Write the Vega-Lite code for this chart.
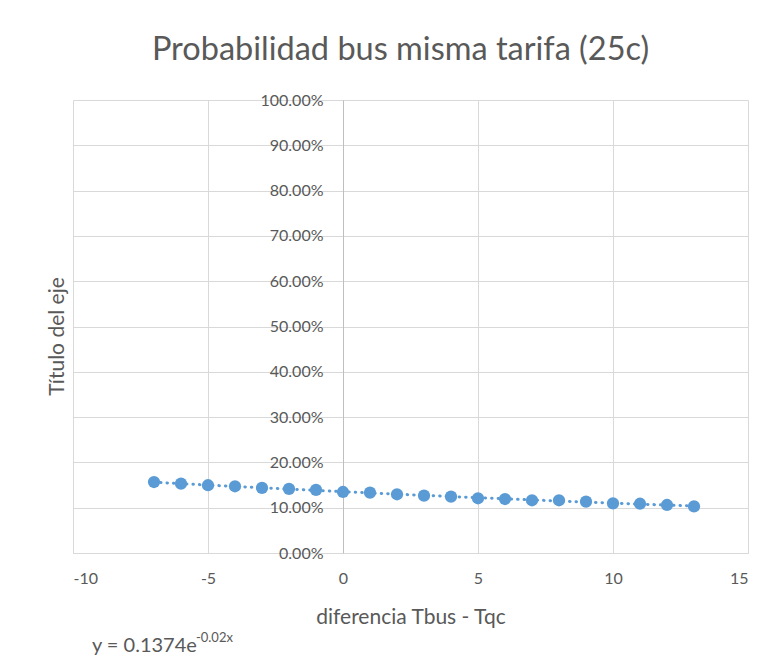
{
  "$schema": "https://vega.github.io/schema/vega-lite/v6.json",
  "width": 675,
  "height": 453,
  "autosize": {"type": "none"},
  "padding": {"left": 73, "top": 100, "right": 29, "bottom": 106},
  "background": "white",
  "title": {
    "text": "Probabilidad bus misma tarifa (25c)",
    "font": "Lato",
    "fontSize": 32.5,
    "fontWeight": "normal",
    "color": "#595959",
    "anchor": "middle",
    "offset": 26,
    "dx": -10
  },
  "config": {
    "view": {"stroke": null},
    "axis": {
      "labelFont": "Lato",
      "titleFont": "Lato",
      "labelColor": "#595959",
      "titleColor": "#595959",
      "labelFontSize": 16,
      "titleFontSize": 21,
      "titleFontWeight": "normal",
      "gridColor": "#d9d9d9",
      "domainColor": "#d9d9d9",
      "ticks": false
    }
  },
  "datasets": {
    "points": [
      {"x": -7, "y": 0.1567},
      {"x": -6, "y": 0.1531},
      {"x": -5, "y": 0.1496},
      {"x": -4, "y": 0.1473},
      {"x": -3, "y": 0.1436},
      {"x": -2, "y": 0.1414},
      {"x": -1, "y": 0.1392},
      {"x": 0, "y": 0.1347},
      {"x": 1, "y": 0.1332},
      {"x": 2, "y": 0.1296},
      {"x": 3, "y": 0.1265},
      {"x": 4, "y": 0.1243},
      {"x": 5, "y": 0.1208},
      {"x": 6, "y": 0.1192},
      {"x": 7, "y": 0.1164},
      {"x": 8, "y": 0.1164},
      {"x": 9, "y": 0.1133},
      {"x": 10, "y": 0.1097},
      {"x": 11, "y": 0.1088},
      {"x": 12, "y": 0.106},
      {"x": 13, "y": 0.1031}
    ],
    "equation": [{"label": "y = 0.1374e", "sup": "-0.02x"}]
  },
  "layer": [
    {
      "data": {"name": "points"},
      "transform": [{"regression": "y", "on": "x", "method": "exp"}],
      "mark": {
        "type": "line",
        "color": "#5b9bd5",
        "strokeWidth": 3,
        "strokeDash": [0.5, 6],
        "strokeCap": "round"
      },
      "encoding": {
        "x": {
          "field": "x",
          "type": "quantitative",
          "scale": {"domain": [-10, 15], "nice": false, "zero": false},
          "axis": {
            "values": [-10, -5, 0, 5, 10, 15],
            "labelExpr": "'' + datum.value",
            "title": "diferencia Tbus - Tqc",
            "labelPadding": 17,
            "titlePadding": 20,
            "grid": true
          }
        },
        "y": {
          "field": "y",
          "type": "quantitative",
          "scale": {"domain": [0, 1], "nice": false},
          "axis": {
            "values": [0, 0.1, 0.2, 0.3, 0.4, 0.5, 0.6, 0.7, 0.8, 0.9, 1],
            "format": ".2%",
            "offset": -270,
            "labelPadding": 20,
            "domainColor": "#bfbfbf",
            "grid": true,
            "title": "Título del eje",
            "titleX": -286,
            "titleY": 236,
            "titleBaseline": "middle"
          }
        }
      }
    },
    {
      "data": {"name": "points"},
      "mark": {"type": "circle", "color": "#5b9bd5", "opacity": 1, "size": 150},
      "encoding": {
        "x": {"field": "x", "type": "quantitative"},
        "y": {"field": "y", "type": "quantitative"}
      }
    },
    {
      "data": {"name": "equation"},
      "mark": {"type": "text", "font": "Lato", "fontSize": 20, "color": "#595959", "align": "left", "baseline": "middle"},
      "encoding": {
        "x": {"datum": -9.3, "type": "quantitative"},
        "y": {"datum": -0.206, "type": "quantitative"},
        "text": {"field": "label"}
      }
    },
    {
      "data": {"name": "equation"},
      "mark": {"type": "text", "font": "Lato", "fontSize": 13, "color": "#595959", "align": "left", "baseline": "middle", "dx": 104, "dy": -8},
      "encoding": {
        "x": {"datum": -9.3, "type": "quantitative"},
        "y": {"datum": -0.206, "type": "quantitative"},
        "text": {"field": "sup"}
      }
    }
  ]
}
